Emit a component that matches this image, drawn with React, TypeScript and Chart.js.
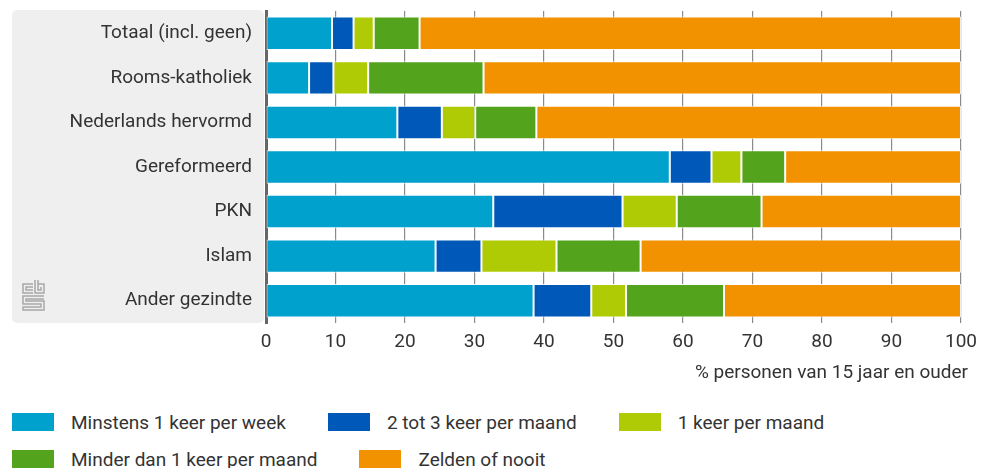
import React, { useEffect, useRef } from "react";
import { Chart, registerables } from "chart.js";

Chart.register(...registerables);

const categories = [
  "Totaal (incl. geen)",
  "Rooms-katholiek",
  "Nederlands hervormd",
  "Gereformeerd",
  "PKN",
  "Islam",
  "Ander gezindte",
];

const seriesNames = [
  "Minstens 1 keer per week",
  "2 tot 3 keer per maand",
  "1 keer per maand",
  "Minder dan 1 keer per maand",
  "Zelden of nooit",
];

const weekly = [9.5, 6.2, 18.9, 58.1, 32.7, 24.4, 38.5];
const twoThreeMonthly = [3.1, 3.5, 6.4, 6.0, 18.6, 6.6, 8.3];
const monthly = [2.9, 5.0, 4.8, 4.3, 7.8, 10.8, 5.0];
const lessThanMonthly = [6.6, 16.6, 8.8, 6.3, 12.2, 12.1, 14.1];
const rarelyNever = [77.9, 68.7, 61.1, 25.3, 28.7, 46.1, 34.1];

const seriesValues = [weekly, twoThreeMonthly, monthly, lessThanMonthly, rarelyNever];
const seriesColors = ["#00a1cd", "#0058b8", "#afcb05", "#53a31d", "#f39200"];

const xTicks = [0, 10, 20, 30, 40, 50, 60, 70, 80, 90, 100];
const xTitle = "% personen van 15 jaar en ouder";

const FONT = "Roboto, 'Noto Sans', sans-serif";
const FS = 19;

const panelPlugin = {
  id: "panel",
  beforeDraw(chart: any) {
    const { ctx, chartArea } = chart;
    const x0 = 4;
    const x1 = chartArea.left - 2;
    const y0 = chartArea.top - 1;
    const y1 = chartArea.bottom;
    ctx.save();
    ctx.fillStyle = "#efefef";
    ctx.beginPath();
    (ctx as any).roundRect(x0, y0, x1 - x0, y1 - y0, 5);
    ctx.fill();
    // CBS logo approximation
    ctx.strokeStyle = "#a8a8a8";
    ctx.lineWidth = 1.5;
    const lx = 15;
    const ly = y1 - 39;
    ctx.beginPath();
    // c
    ctx.moveTo(lx + 10, ly);
    ctx.lineTo(lx, ly);
    ctx.lineTo(lx, ly + 9);
    ctx.lineTo(lx + 10, ly + 9);
    ctx.moveTo(lx + 10, ly + 3);
    ctx.lineTo(lx + 3, ly + 3);
    ctx.lineTo(lx + 3, ly + 6);
    ctx.lineTo(lx + 10, ly + 6);
    // b
    ctx.moveTo(lx + 12, ly - 4);
    ctx.lineTo(lx + 12, ly + 9);
    ctx.lineTo(lx + 21, ly + 9);
    ctx.lineTo(lx + 21, ly);
    ctx.lineTo(lx + 15, ly);
    ctx.moveTo(lx + 15, ly - 4);
    ctx.lineTo(lx + 15, ly + 6);
    ctx.lineTo(lx + 18, ly + 6);
    ctx.lineTo(lx + 18, ly + 3);
    // s
    ctx.moveTo(lx + 21, ly + 12);
    ctx.lineTo(lx, ly + 12);
    ctx.lineTo(lx, ly + 20);
    ctx.lineTo(lx + 18, ly + 20);
    ctx.lineTo(lx + 18, ly + 23);
    ctx.lineTo(lx, ly + 23);
    ctx.lineTo(lx, ly + 26);
    ctx.lineTo(lx + 21, ly + 26);
    ctx.lineTo(lx + 21, ly + 17);
    ctx.lineTo(lx + 3, ly + 17);
    ctx.lineTo(lx + 3, ly + 15);
    ctx.lineTo(lx + 21, ly + 15);
    ctx.stroke();
    ctx.restore();
  },
};

const titlePlugin = {
  id: "xtitle",
  afterDraw(chart: any) {
    const { ctx, chartArea } = chart;
    ctx.save();
    ctx.font = `${FS}px ${FONT}`;
    ctx.fillStyle = "#333";
    ctx.textAlign = "right";
    ctx.textBaseline = "middle";
    ctx.fillText(xTitle, chartArea.right + 7, chartArea.bottom + 50);
    ctx.restore();
  },
};

export default function App() {
  const ref = useRef<HTMLCanvasElement | null>(null);

  useEffect(() => {
    if (!ref.current) return;
    const chart = new Chart(ref.current, {
      type: "bar",
      data: {
        labels: categories,
        datasets: seriesNames.map((name, i) => ({
          label: name,
          data: seriesValues[i],
          backgroundColor: seriesColors[i],
          borderColor: "rgba(255,255,255,0.85)",
          borderWidth: 1,
          borderSkipped: false,
          categoryPercentage: 1,
          barPercentage: 0.75,
        })),
      },
      options: {
        indexAxis: "y",
        animation: false,
        responsive: false,
        maintainAspectRatio: false,
        layout: { padding: { top: 3, right: 19, bottom: 0, left: 0 } },
        plugins: {
          legend: { display: false },
          tooltip: { enabled: false },
        },
        scales: {
          x: {
            stacked: true,
            min: 0,
            max: 100,
            afterBuildTicks(scale: any) {
              scale.ticks = xTicks.map((v) => ({ value: v }));
            },
            grid: {
              color: "#8a8a8a",
              lineWidth: 1.2,
              drawTicks: false,
            },
            border: { display: false },
            ticks: {
              padding: 8,
              color: "#333",
              font: { family: FONT, size: FS },
              maxRotation: 0,
            },
            afterFit(scale: any) {
              scale.height = 73;
              scale.paddingLeft = 0;
              scale.paddingRight = 0;
            },
          },
          y: {
            stacked: true,
            grid: { display: false, drawTicks: false },
            border: { display: true, color: "#666", width: 3 },
            ticks: {
              padding: 14,
              color: "#333",
              font: { family: FONT, size: FS },
            },
            afterFit(scale: any) {
              scale.width = 258;
              scale.paddingTop = 0;
              scale.paddingBottom = 0;
            },
          },
        },
      },
      plugins: [panelPlugin, titlePlugin],
    });
    return () => chart.destroy();
  }, []);

  return (
    <div style={{ width: 972, fontFamily: FONT }}>
      <canvas ref={ref} width={972} height={388} style={{ display: "block" }} />
      <div
        style={{
          display: "flex",
          flexWrap: "wrap",
          columnGap: 42,
          rowGap: 19,
          paddingLeft: 4,
          marginTop: 17,
        }}
      >
        {seriesNames.map((name, i) => (
          <div key={name} style={{ display: "flex", alignItems: "center", height: 18 }}>
            <span
              style={{
                display: "inline-block",
                width: 42,
                height: 18,
                background: seriesColors[i],
                marginRight: 17,
              }}
            />
            <span style={{ fontSize: FS, color: "#333", whiteSpace: "nowrap" }}>{name}</span>
          </div>
        ))}
      </div>
    </div>
  );
}
